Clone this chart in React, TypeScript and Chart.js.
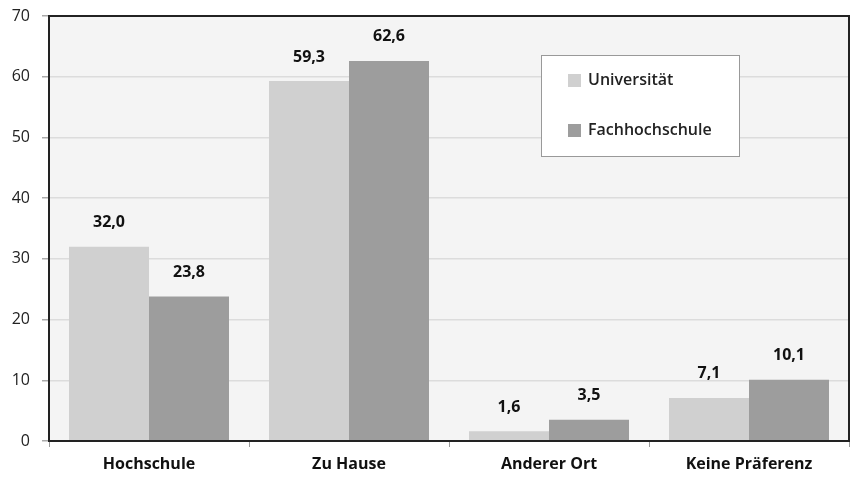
import React, { useEffect, useRef } from "react";
import { Chart, registerables } from "chart.js";

Chart.register(...registerables);

const categories = ["Hochschule", "Zu Hause", "Anderer Ort", "Keine Präferenz"];
const universitaet = [32.0, 59.3, 1.6, 7.1];
const fachhochschule = [23.8, 62.6, 3.5, 10.1];
const seriesNames = ["Universität", "Fachhochschule"];
const yTicks = [0, 10, 20, 30, 40, 50, 60, 70];

const FONT = "'Open Sans', 'DejaVu Sans', sans-serif";

const plotBgPlugin = {
  id: "plotBg",
  beforeDraw(chart: any) {
    const { ctx, chartArea: a } = chart;
    ctx.save();
    ctx.fillStyle = "#f4f4f4";
    ctx.fillRect(a.left, a.top, a.right - a.left, a.bottom - a.top);
    ctx.restore();
  },
  afterDatasetsDraw(chart: any) {
    const { ctx, chartArea: a } = chart;
    ctx.save();
    ctx.strokeStyle = "#222";
    ctx.lineWidth = 2;
    ctx.strokeRect(a.left, a.top, a.right - a.left, a.bottom - a.top);
    ctx.restore();
  },
};

const labelPlugin = {
  id: "valueLabels",
  afterDatasetsDraw(chart: any) {
    const { ctx } = chart;
    ctx.save();
    ctx.font = `bold 16px ${FONT}`;
    ctx.fillStyle = "#111";
    ctx.textAlign = "center";
    ctx.textBaseline = "middle";
    chart.data.datasets.forEach((ds: any, di: number) => {
      const meta = chart.getDatasetMeta(di);
      meta.data.forEach((bar: any, i: number) => {
        const v = ds.data[i] as number;
        ctx.fillText(v.toFixed(1).replace(".", ","), bar.x, bar.y - 24);
      });
    });
    ctx.restore();
  },
};

const legendPlugin = {
  id: "boxLegend",
  afterDraw(chart: any) {
    const { ctx, chartArea: a } = chart;
    const left = a.left + 492;
    const top = a.top + 39;
    const w = 198;
    const h = 101;
    ctx.save();
    ctx.fillStyle = "#ffffff";
    ctx.fillRect(left, top, w, h);
    ctx.strokeStyle = "#999";
    ctx.lineWidth = 1;
    ctx.strokeRect(left + 0.5, top + 0.5, w, h);
    ctx.font = `600 16px ${FONT}`;
    ctx.textBaseline = "middle";
    ctx.textAlign = "left";
    chart.data.datasets.forEach((ds: any, i: number) => {
      const cy = top + 25 + i * 50;
      ctx.fillStyle = ds.backgroundColor;
      ctx.fillRect(left + 27, cy - 6, 13, 13);
      ctx.fillStyle = "#222";
      ctx.fillText(ds.label, left + 47, cy);
    });
    ctx.restore();
  },
};

export default function App() {
  const ref = useRef<HTMLCanvasElement>(null);
  useEffect(() => {
    document.body.style.margin = "0";
    const chart = new Chart(ref.current!, {
      type: "bar",
      data: {
        labels: categories,
        datasets: [
          {
            label: seriesNames[0],
            data: universitaet,
            backgroundColor: "#d0d0d0",
            categoryPercentage: 0.8,
            barPercentage: 1.0,
          },
          {
            label: seriesNames[1],
            data: fachhochschule,
            backgroundColor: "#9d9d9d",
            categoryPercentage: 0.8,
            barPercentage: 1.0,
          },
        ],
      },
      options: {
        animation: false,
        responsive: false,
        maintainAspectRatio: false,
        layout: { padding: { top: 16, right: 1, left: 0, bottom: 0 } },
        plugins: {
          legend: { display: false },
          tooltip: { enabled: false },
        },
        scales: {
          x: {
            grid: {
              display: true,
              drawOnChartArea: false,
              drawTicks: true,
              offset: true,
              tickLength: 6,
              tickColor: "#999",
            },
            border: { display: false },
            ticks: {
              color: "#111",
              font: { family: FONT, size: 16, weight: "bold" },
              padding: 8,
              maxRotation: 0,
            },
            afterFit(scale: any) {
              scale.height = 40;
              scale.paddingLeft = 0;
              scale.paddingRight = 0;
            },
          },
          y: {
            min: 0,
            max: 70,
            afterBuildTicks(scale: any) {
              scale.ticks = yTicks.map((v) => ({ value: v }));
            },
            grid: {
              color: "#dcdcdc",
              lineWidth: 1.5,
              drawTicks: true,
              tickLength: 7,
              tickColor: "#aaa",
            },
            border: { display: false },
            ticks: {
              color: "#222",
              font: { family: FONT, size: 16 },
              padding: 12,
            },
            afterFit(scale: any) {
              scale.width = 49;
              scale.paddingTop = 0;
              scale.paddingBottom = 0;
            },
          },
        },
      },
      plugins: [plotBgPlugin, labelPlugin, legendPlugin],
    });
    return () => chart.destroy();
  }, []);
  return (
    <div style={{ width: 850, height: 481 }}>
      <canvas ref={ref} width={850} height={481} style={{ display: "block" }} />
    </div>
  );
}
